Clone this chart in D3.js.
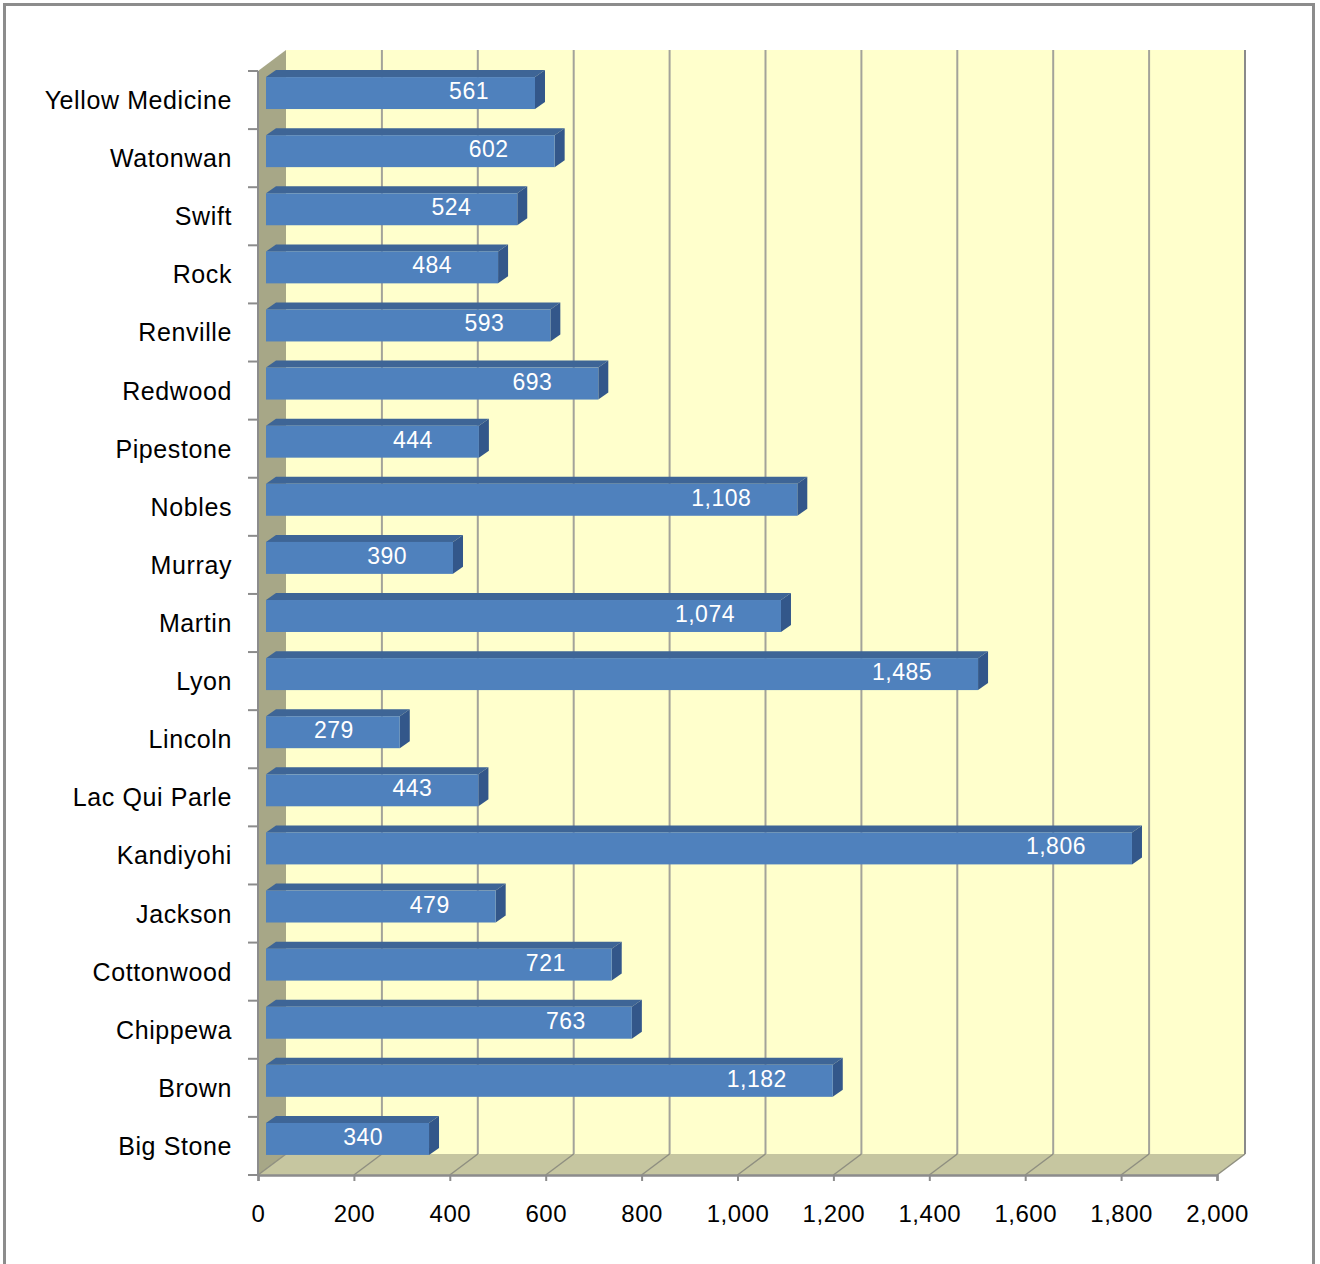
<!DOCTYPE html>
<html>
<head>
<meta charset="utf-8">
<script src="https://cdn.jsdelivr.net/npm/d3@7"></script>
<style>
    body { margin: 0; background: #fff; }
    svg { display: block; }
    text { font-family: "Liberation Sans", Arial, sans-serif; }
</style>
</head>
<body>
<svg id="chart" width="1320" height="1264"></svg>
<script>
const categories = ["Yellow Medicine", "Watonwan", "Swift", "Rock", "Renville", "Redwood",
    "Pipestone", "Nobles", "Murray", "Martin", "Lyon", "Lincoln", "Lac Qui  Parle",
    "Kandiyohi", "Jackson", "Cottonwood", "Chippewa", "Brown", "Big Stone"];
const values = [561, 602, 524, 484, 593, 693, 444, 1108, 390, 1074, 1485, 279, 443,
    1806, 479, 721, 763, 1182, 340];
const xTickValues = [0, 200, 400, 600, 800, 1000, 1200, 1400, 1600, 1800, 2000];

const svg = d3.select("#chart");

// frame round the whole chart
svg.append("rect")
    .attr("x", 4.5).attr("y", 4.5)
    .attr("width", 1309).attr("height", 1300)
    .attr("fill", "#fff")
    .attr("stroke", "#8c8c8c")
    .attr("stroke-width", 3);

const xScale = d3.scaleLinear().domain([0, 2000]).range([258, 1217]);
const yBand = d3.scaleBand().domain(categories).range([71, 1175]);
const yBar = d3.scaleBand().domain(categories).range([71, 1175])
    .paddingInner(0.45).paddingOuter(0.225);

// 3d offsets: back of the walls, front and depth of the bars
const wall = { dx: 28, dy: -21 };
const barFront = { dx: 8, dy: -7 };
const barDepth = { dx: 10, dy: -7 };

const x0 = xScale(0), x1 = xScale(2000);
const yTop = yBand.range()[0], yBottom = yBand.range()[1];

const pts = p => p.map(d => d.join(",")).join(" ");

// back wall
svg.append("rect")
    .attr("x", x0 + wall.dx).attr("y", yTop + wall.dy)
    .attr("width", x1 - x0).attr("height", yBottom - yTop)
    .attr("fill", "#ffffcc");

// left wall
svg.append("polygon")
    .attr("points", pts([[x0, yTop], [x0 + wall.dx, yTop + wall.dy],
        [x0 + wall.dx, yBottom + wall.dy], [x0, yBottom]]))
    .attr("fill", "#a7a787");

// floor
svg.append("polygon")
    .attr("points", pts([[x0, yBottom], [x0 + wall.dx, yBottom + wall.dy],
        [x1 + wall.dx, yBottom + wall.dy], [x1, yBottom]]))
    .attr("fill", "#c6c6a0");

// gridlines on the back wall and the floor
const grid = svg.append("g");
grid.selectAll(".wall-grid").data(xTickValues.slice(1))
    .enter().append("line")
    .attr("x1", d => xScale(d) + wall.dx).attr("x2", d => xScale(d) + wall.dx)
    .attr("y1", yTop + wall.dy).attr("y2", yBottom + wall.dy)
    .attr("stroke", d => d === 2000 ? "#8a8a8a" : "#a3a39a")
    .attr("stroke-width", 2);

grid.selectAll(".floor-grid").data(xTickValues)
    .enter().append("line")
    .attr("x1", d => xScale(d)).attr("x2", d => xScale(d) + wall.dx)
    .attr("y1", yBottom).attr("y2", yBottom + wall.dy)
    .attr("stroke", "#8f8f80")
    .attr("stroke-width", 1.5);

// left axis line and category ticks at band edges
svg.append("line")
    .attr("x1", x0).attr("x2", x0)
    .attr("y1", yTop).attr("y2", yBottom)
    .attr("stroke", "#8c8c8c").attr("stroke-width", 2);

svg.selectAll(".cat-tick").data(categories.concat([null]))
    .enter().append("line")
    .attr("x1", x0 - 10).attr("x2", x0)
    .attr("y1", (d, i) => i < categories.length ? yBand(d) : yBottom)
    .attr("y2", (d, i) => i < categories.length ? yBand(d) : yBottom)
    .attr("stroke", "#8c8c8c").attr("stroke-width", 2);

svg.selectAll(".cat-label").data(categories)
    .enter().append("text")
    .attr("x", 232)
    .attr("y", d => yBand(d) + yBand.bandwidth() / 2)
    .attr("text-anchor", "end")
    .attr("dominant-baseline", "central")
    .attr("font-size", 25)
    .attr("letter-spacing", 0.6)
    .attr("fill", "#000")
    .text(d => d);

// x axis along the front edge of the floor
const xAxis = d3.axisBottom(xScale)
    .tickValues(xTickValues)
    .tickSize(6)
    .tickPadding(24)
    .tickFormat(d3.format(","));

const xAxisG = svg.append("g")
    .attr("transform", `translate(0,${yBottom})`)
    .call(xAxis);
xAxisG.select(".domain").attr("stroke", "#8c8c8c").attr("stroke-width", 2.5);
xAxisG.selectAll(".tick line").attr("stroke", "#8c8c8c").attr("stroke-width", 2);
xAxisG.selectAll(".tick text")
    .attr("font-size", 24)
    .attr("letter-spacing", 0.5)
    .attr("font-family", "Liberation Sans, Arial, sans-serif")
    .attr("fill", "#000");

// bars: front, top and side faces
const bars = svg.selectAll(".bar").data(categories.map((c, i) => ({ name: c, value: values[i] })))
    .enter().append("g")
    .attr("class", "bar");

const faceX0 = () => xScale(0) + barFront.dx;
const faceX1 = d => xScale(d.value) + barFront.dx;
const faceY0 = d => yBar(d.name) + barFront.dy;
const faceY1 = d => yBar(d.name) + yBar.bandwidth() + barFront.dy;

bars.append("polygon")
    .attr("points", d => pts([[faceX0(), faceY0(d)], [faceX0() + barDepth.dx, faceY0(d) + barDepth.dy],
        [faceX1(d) + barDepth.dx, faceY0(d) + barDepth.dy], [faceX1(d), faceY0(d)]]))
    .attr("fill", "#3e6596");

bars.append("polygon")
    .attr("points", d => pts([[faceX1(d), faceY0(d)], [faceX1(d) + barDepth.dx, faceY0(d) + barDepth.dy],
        [faceX1(d) + barDepth.dx, faceY1(d) + barDepth.dy], [faceX1(d), faceY1(d)]]))
    .attr("fill", "#33578a");

bars.append("rect")
    .attr("x", faceX0())
    .attr("y", d => faceY0(d))
    .attr("width", d => faceX1(d) - faceX0())
    .attr("height", yBar.bandwidth())
    .attr("fill", "#4f81bd");

bars.append("text")
    .attr("x", d => faceX1(d) - 46)
    .attr("y", d => (faceY0(d) + faceY1(d)) / 2 - 2)
    .attr("text-anchor", "end")
    .attr("dominant-baseline", "central")
    .attr("font-size", 23)
    .attr("letter-spacing", 0.5)
    .attr("fill", "#fff")
    .text(d => d3.format(",")(d.value));
</script>
</body>
</html>
